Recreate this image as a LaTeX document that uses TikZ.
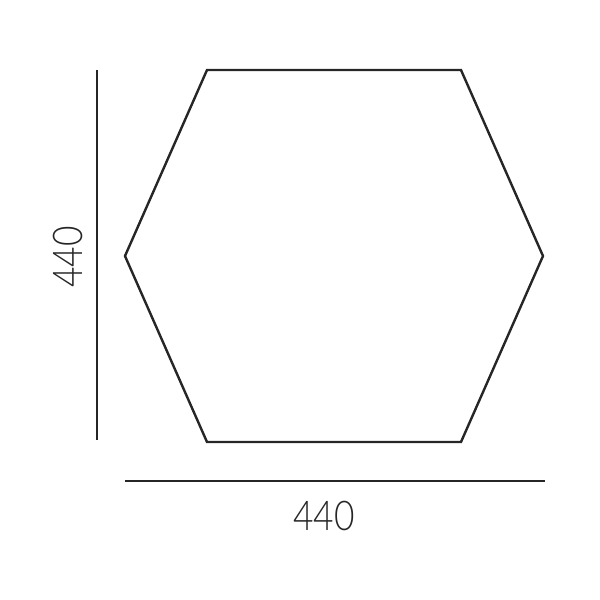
\documentclass[tikz,border=0pt]{standalone}
\usepackage{fontspec}
\setmainfont{Lato}[UprightFont=* Light]
\usepackage{tikz}

\begin{document}
\begin{tikzpicture}[x=1pt,y=-1pt,
  edge/.style={line width=2.4pt, color=black!85, line join=miter},
  dimline/.style={line width=2.4pt, color=black!85},
  dimlabel/.style={font=\fontsize{41}{41}\selectfont, color=black!85, inner sep=0pt, xscale=0.86}]
\useasboundingbox (0,0) rectangle (600,600);
\coordinate (tl) at (207,70);
\coordinate (tr) at (461,70);
\coordinate (r) at (543,256);
\coordinate (br) at (461,442);
\coordinate (bl) at (207,442);
\coordinate (l) at (125,256);
\draw[edge] (tl) -- (tr) -- (r) -- (br) -- (bl) -- (l) -- cycle;
\coordinate (vtop) at (97,70);
\coordinate (vbot) at (97,440);
\draw[dimline] (vtop) -- (vbot);
\node[rotate=90, dimlabel] (hlabel) at (68,257) {440};
\coordinate (hleft) at (125,481);
\coordinate (hright) at (545,481);
\draw[dimline] (hleft) -- (hright);
\node[dimlabel] (wlabel) at (324,516) {440};
\end{tikzpicture}
\end{document}
